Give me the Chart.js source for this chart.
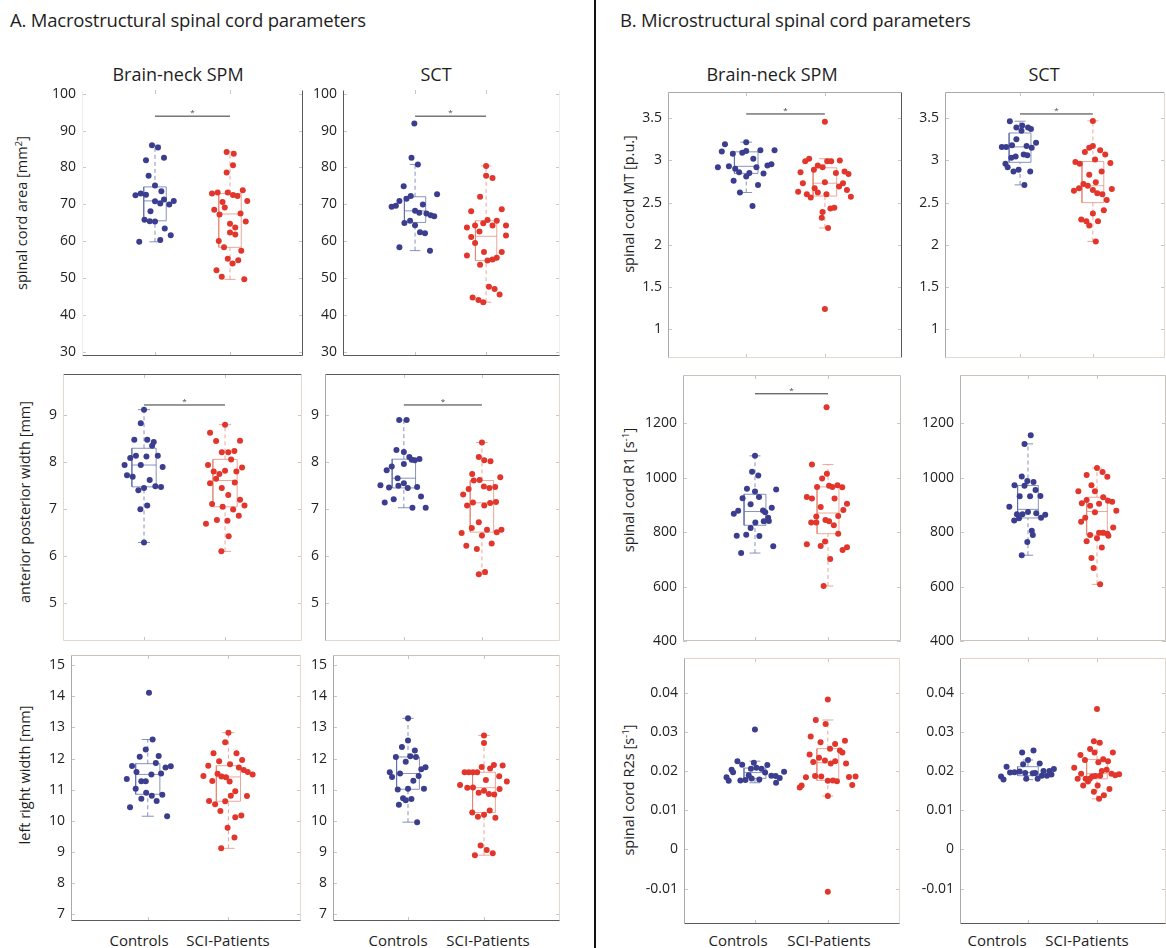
<!DOCTYPE html>
<html>
<head>
<meta charset="utf-8">
<script src="https://cdn.jsdelivr.net/npm/chart.js@4.4.1/dist/chart.umd.min.js"></script>
<style>
  body { margin: 0; background: #fff; font-family: "Open Sans", sans-serif; color: #1e1e1e; }
  #fig { position: relative; width: 1166px; height: 948px; overflow: hidden; }
  #fig canvas { position: absolute; }
  .t { position: absolute; white-space: nowrap; color: #1e1e1e; line-height: 1; }
  .sec { font-size: 18.5px; letter-spacing: -0.2px; }
  .sub { font-size: 18px; transform: translate(-50%, -50%); }
  .yl { font-size: 14.5px; transform: translate(-50%, -50%) rotate(-90deg); }
  .xl { font-size: 15px; transform: translate(-50%, -50%); }
  sup { font-size: 0.68em; vertical-align: 0.5em; line-height: 0; }
  #sep { position: absolute; left: 594px; top: 0; width: 2px; height: 948px; background: #111; }
</style>
</head>
<body>
<div id="fig">
  <div class="t sec" style="left:10px;top:11px">A. Macrostructural spinal cord parameters</div>
  <div class="t sec" style="left:620px;top:11px">B. Microstructural spinal cord parameters</div>
  <div id="sep"></div>

  <div class="t sub" style="left:178px;top:74px">Brain-neck SPM</div>
  <div class="t sub" style="left:436px;top:74px">SCT</div>
  <div class="t sub" style="left:772px;top:74px">Brain-neck SPM</div>
  <div class="t sub" style="left:1044px;top:74px">SCT</div>

  <div class="t yl" style="left:22px;top:213px">spinal cord area [mm<sup>2</sup>]</div>
  <div class="t yl" style="left:25px;top:502px">anterior posterior width [mm]</div>
  <div class="t yl" style="left:25px;top:775px">left right width [mm]</div>
  <div class="t yl" style="left:629px;top:204px">spinal cord MT [p.u.]</div>
  <div class="t yl" style="left:629px;top:490px">spinal cord R1 [s<sup>-1</sup>]</div>
  <div class="t yl" style="left:629px;top:790px">spinal cord R2s [s<sup>-1</sup>]</div>

  <div class="t xl" style="left:139px;top:940px">Controls</div>
  <div class="t xl" style="left:228px;top:940px">SCI-Patients</div>
  <div class="t xl" style="left:398px;top:940px">Controls</div>
  <div class="t xl" style="left:488px;top:940px">SCI-Patients</div>
  <div class="t xl" style="left:738px;top:940px">Controls</div>
  <div class="t xl" style="left:829px;top:940px">SCI-Patients</div>
  <div class="t xl" style="left:997px;top:940px">Controls</div>
  <div class="t xl" style="left:1087px;top:940px">SCI-Patients</div>
</div>

<script>
// ---------- data ----------
const groups = ['Controls', 'SCI-Patients'];

// tick labels per measure
const areaTicks = [30, 40, 50, 60, 70, 80, 90, 100];
const apTicks = [5, 6, 7, 8, 9];
const lrTicks = [7, 8, 9, 10, 11, 12, 13, 14, 15];
const mtTicks = [1, 1.5, 2, 2.5, 3, 3.5];
const r1Ticks = [400, 600, 800, 1000, 1200];
const r2sTicks = [-0.01, 0, 0.01, 0.02, 0.03, 0.04];

// spinal cord area, Brain-neck SPM
const areaSpmCtrl = [86.0, 85.4, 81.9, 82.6, 77.7, 75.1, 73.5, 72.4, 72.9, 72.6, 71.3, 70.8, 70.2, 69.9, 70.9, 68.1, 65.8, 65.4, 65.3, 63.4, 61.6, 59.8, 60.3];
const areaSpmCtrlJit = [-0.04, 0.04, -0.12, 0.12, -0.085, 0, 0.085, -0.26, -0.19, -0.12, 0.12, 0, 0.07, 0.19, 0.25, -0.06, -0.14, -0.07, 0, 0.13, 0.21, -0.21, 0.07];
const areaSpmSci = [84.2, 83.7, 80.6, 78.6, 72.9, 73.2, 73.2, 72.5, 72.2, 73.8, 70.9, 70.6, 68.5, 69.1, 67.2, 67.5, 65.3, 64.7, 63.7, 62.3, 61.8, 60.0, 58.3, 57.4, 55.2, 54.8, 53.9, 52.1, 50.3, 49.6];
const areaSpmSciJit = [-0.045, 0.05, 0.04, -0.045, -0.24, -0.165, -0.03, 0.04, 0.1, 0.17, 0.23, -0.1, -0.21, -0.07, -0.14, 0.14, 0.21, 0, 0.07, 0, 0.07, -0.15, -0.08, 0.15, -0.03, 0.11, 0.035, -0.18, -0.11, 0.19];

// spinal cord area, SCT
const areaSctCtrl = [91.9, 82.6, 80.8, 74.9, 72.7, 72.2, 71.5, 70.9, 69.9, 69.3, 69.6, 68.2, 67.7, 67.5, 67.0, 66.7, 65.5, 64.9, 64.3, 62.4, 62.1, 58.3, 57.4];
const areaSctCtrlJit = [-0.01, -0.05, 0.04, -0.16, 0.31, -0.06, -0.12, -0.22, 0.11, -0.33, -0.27, 0, 0.06, 0.16, 0.22, 0.27, -0.07, -0.15, 0, 0.07, 0.14, -0.22, 0.21];
const areaSctSci = [80.4, 77.7, 77.1, 72.0, 68.1, 68.6, 65.7, 65.5, 64.8, 64.2, 64.2, 64.2, 63.7, 62.6, 61.1, 61.5, 59.5, 57.0, 57.0, 56.1, 55.5, 55.0, 54.7, 53.6, 47.6, 47.0, 45.5, 44.7, 44.0, 43.4];
const areaSctSciJit = [0, 0, 0.09, -0.085, -0.21, 0.22, 0.02, 0.15, -0.04, -0.155, 0.09, 0.28, -0.27, -0.094, -0.21, 0.28, -0.155, -0.03, 0.22, -0.27, 0.15, 0.09, 0.02, -0.085, 0.04, 0.12, 0.19, -0.19, -0.108, -0.04];

// anterior posterior width
const apSpmCtrl = [9.11, 8.82, 8.47, 8.47, 8.42, 8.34, 8.08, 8.13, 8.11, 8.13, 7.93, 7.93, 7.89, 7.71, 7.68, 7.61, 7.44, 7.39, 7.48, 7.46, 7.07, 6.99, 6.28];
const apSpmCtrlJit = [0, -0.04, -0.12, 0.04, 0.12, 0.10, -0.17, -0.10, 0.03, 0.17, -0.24, -0.04, 0.23, -0.21, -0.14, 0.07, 0, -0.07, 0.14, 0.21, 0.04, -0.045, 0];
const apSpmSci = [8.79, 8.62, 8.44, 8.45, 8.20, 8.20, 8.23, 8.05, 7.93, 7.88, 7.79, 7.74, 7.81, 7.79, 7.64, 7.54, 7.56, 7.44, 7.29, 7.10, 7.19, 7.07, 7.04, 6.98, 6.85, 6.76, 6.74, 6.68, 6.41, 6.09];
const apSpmSciJit = [0, -0.185, -0.11, 0.185, -0.04, 0.04, 0.115, 0.075, -0.21, 0.21, -0.14, -0.07, 0, 0.14, -0.11, -0.185, 0.12, -0.04, 0.04, -0.16, 0.185, 0.24, -0.03, 0.10, 0.17, -0.1, 0.03, -0.235, 0.045, -0.045];
const apSctCtrl = [8.89, 8.89, 8.25, 8.21, 8.10, 8.04, 8.06, 8.03, 7.90, 7.95, 7.82, 7.65, 7.50, 7.45, 7.49, 7.54, 7.44, 7.46, 7.26, 7.20, 7.13, 7.02, 7.02];
const apSctCtrlJit = [-0.06, 0.035, -0.095, 0, 0.07, 0.1, 0.2, 0.14, -0.155, 0, -0.22, -0.08, -0.3, -0.19, -0.07, 0, 0.05, 0.17, 0.22, -0.13, -0.245, 0.11, 0.28];
const apSctSci = [8.41, 8.10, 8.03, 8.01, 7.74, 7.60, 7.61, 7.67, 7.47, 7.44, 7.46, 7.42, 7.30, 7.13, 7.12, 7.14, 7.07, 7.07, 6.71, 6.59, 6.55, 6.50, 6.55, 6.48, 6.43, 6.26, 6.21, 6.14, 5.60, 5.65];
const apSctSciJit = [0, -0.04, 0.03, 0.11, -0.125, -0.105, -0.03, 0.235, 0.025, 0.095, 0.17, -0.17, -0.24, -0.115, 0.105, 0.18, -0.19, 0.03, -0.04, -0.13, 0.065, 0.19, 0.25, -0.26, 0, 0.125, -0.2, -0.065, -0.04, 0.04];

// left right width
const lrSpmCtrl = [14.11, 12.61, 12.29, 12.06, 12.08, 11.86, 11.76, 11.71, 11.75, 11.57, 11.49, 11.52, 11.34, 11.27, 11.27, 11.03, 10.90, 10.84, 10.81, 10.71, 10.64, 10.44, 10.15];
const lrSpmCtrlJit = [0.015, 0.06, -0.025, -0.1, 0.135, 0.1, -0.195, 0.22, 0.285, -0.14, 0.045, 0.165, -0.26, -0.08, -0.025, -0.15, -0.02, 0.18, 0.05, -0.08, 0.11, -0.22, 0.24];
const lrSpmSci = [12.83, 12.52, 12.17, 12.17, 11.95, 11.91, 11.82, 11.77, 11.71, 11.63, 11.57, 11.49, 11.51, 11.42, 11.40, 11.44, 11.28, 11.26, 10.95, 10.80, 10.81, 10.64, 10.63, 10.53, 10.32, 10.12, 10.17, 9.78, 9.47, 9.12];
const lrSpmSciJit = [0, -0.04, -0.185, 0.1, 0.17, -0.115, 0.02, -0.25, 0.13, 0.19, 0.24, 0.3, -0.135, -0.085, -0.03, -0.31, -0.2, 0.015, 0.085, 0.23, 0.03, -0.24, -0.04, -0.165, -0.1, 0.085, 0.16, -0.01, 0.075, -0.09];
const lrSctCtrl = [13.29, 12.58, 12.37, 12.26, 12.05, 12.07, 12.05, 11.90, 11.56, 11.52, 11.41, 11.44, 11.66, 11.72, 11.29, 11.01, 11.03, 11.03, 10.73, 10.66, 10.70, 10.52, 9.96];
const lrSctCtrlJit = [0, 0, -0.08, 0.09, -0.16, 0.03, 0.105, -0.03, -0.24, -0.105, -0.21, 0.14, 0.175, 0.23, 0.07, -0.135, 0, 0.21, -0.065, -0.03, 0.045, -0.12, 0.12];
const lrSctSci = [12.74, 12.50, 11.15, 11.56, 11.56, 11.56, 11.56, 11.73, 11.68, 11.79, 11.78, 11.43, 11.31, 11.26, 11.06, 11.07, 10.90, 10.97, 10.86, 10.85, 11.02, 10.27, 10.33, 10.13, 10.20, 10.10, 9.21, 9.07, 8.90, 8.96];
const lrSctSciJit = [0, 0, -0.315, -0.255, -0.2, -0.145, -0.09, -0.03, 0.08, 0.13, 0.245, 0.2, 0.025, 0.3, -0.22, -0.145, -0.07, 0, 0.065, 0.135, 0.205, -0.155, 0.075, -0.08, 0, 0.15, -0.045, 0.035, -0.12, 0.115];

// MT
const mtSpmCtrl = [3.216, 3.19, 3.12, 3.12, 3.105, 3.09, 3.11, 3.08, 3.02, 2.92, 2.93, 2.92, 2.94, 2.955, 2.90, 2.86, 2.85, 2.845, 2.81, 2.76, 2.71, 2.62, 2.46];
const mtSpmCtrlJit = [0, -0.27, 0.18, 0.36, -0.31, -0.05, 0, -0.17, 0.09, -0.36, -0.22, 0.13, 0.27, 0.32, -0.14, -0.09, 0.04, 0.22, 0, -0.16, 0.15, -0.08, 0.08];
const mtSpmSci = [3.457, 3.02, 2.99, 2.99, 2.99, 3.00, 2.94, 2.92, 2.89, 2.86, 2.87, 2.84, 2.85, 2.73, 2.73, 2.74, 2.67, 2.69, 2.63, 2.60, 2.62, 2.60, 2.65, 2.56, 2.57, 2.43, 2.44, 2.39, 2.32, 2.20, 1.24];
const mtSpmSciJit = [0, -0.2, -0.25, 0.03, 0.08, 0.19, -0.09, -0.03, -0.14, -0.31, 0.25, 0.3, 0.14, -0.28, 0.23, 0, -0.13, 0.18, -0.34, -0.23, -0.09, 0.02, 0.28, -0.18, 0.33, 0.07, 0.12, -0.03, -0.04, 0.04, 0];
const mtSctCtrl = [3.464, 3.413, 3.389, 3.389, 3.373, 3.35, 3.25, 3.21, 3.18, 3.16, 3.16, 3.17, 3.15, 3.07, 3.045, 3.03, 3.06, 2.96, 2.92, 2.89, 2.87, 2.87, 2.71];
const mtSctCtrlJit = [-0.14, 0.03, -0.05, 0.11, 0.15, 0.02, -0.05, 0.22, -0.11, -0.25, -0.19, 0.09, 0.16, 0.05, -0.06, -0.12, 0.10, -0.2, -0.17, -0.02, -0.09, 0.14, 0.06];
const mtSctSci = [3.468, 3.17, 3.15, 3.10, 3.12, 3.07, 2.98, 2.96, 3.01, 2.97, 2.87, 2.83, 2.74, 2.72, 2.70, 2.67, 2.64, 2.65, 2.66, 2.61, 2.60, 2.53, 2.41, 2.37, 2.30, 2.28, 2.28, 2.23, 2.04];
const mtSctSciJit = [0, 0, -0.05, -0.11, 0.10, 0.17, -0.24, -0.18, 0.03, 0.24, 0.12, -0.05, 0.04, -0.13, -0.07, -0.19, -0.26, 0, 0.26, 0.06, 0.13, 0.19, 0.15, 0, -0.16, -0.09, 0.07, -0.05, 0.04];

// R1
const r1SpmCtrl = [1080, 1022, 1008, 959, 949, 956, 924, 929, 902, 889, 878, 867, 879, 873, 853, 840, 841, 835, 815, 787, 790, 786, 748, 723];
const r1SpmCtrlJit = [0, -0.04, 0.045, -0.11, 0, 0.29, -0.17, 0.055, -0.06, 0.23, -0.23, -0.29, 0.11, 0.14, 0.18, 0.12, 0.19, 0.005, -0.06, -0.25, -0.12, 0.06, 0.25, -0.19];
const r1SpmSci = [1259, 1048, 1014, 997, 966, 970, 966, 972, 965, 929, 923, 923, 904, 892, 881, 857, 859, 835, 835, 844, 840, 825, 794, 755, 749, 765, 734, 744, 701, 602];
const r1SpmSciJit = [-0.02, -0.22, -0.015, -0.08, -0.15, 0.015, 0.06, 0.13, 0.195, -0.29, -0.22, 0.09, 0.26, -0.1, 0.21, -0.16, 0.14, -0.23, -0.16, -0.035, 0.015, 0.08, 0.14, -0.29, -0.1, -0.04, 0.2, 0.26, 0.03, -0.06];
const r1SctCtrl = [1156, 1124, 1004, 988, 984, 972, 970, 955, 932, 932, 933, 893, 866, 874, 866, 869, 864, 853, 851, 843, 805, 789, 764, 715];
const r1SctCtrlJit = [0.04, -0.05, -0.09, -0.01, 0.08, -0.195, -0.05, 0.11, -0.12, 0.03, 0.18, -0.27, -0.08, 0, -0.16, 0.12, 0.25, 0.19, -0.13, -0.2, 0.055, 0.07, -0.01, -0.09];
const r1SctSci = [1035, 1021, 1010, 1003, 972, 950, 950, 918, 906, 928, 915, 911, 897, 904, 878, 873, 853, 838, 817, 789, 798, 798, 794, 787, 777, 766, 743, 705, 668, 608];
const r1SctSciJit = [0, 0.08, -0.15, 0.15, -0.08, -0.27, -0.03, -0.15, -0.22, 0.09, 0.16, 0.22, -0.1, 0.03, 0.28, -0.03, -0.17, -0.23, 0.235, -0.1, 0.03, 0.09, 0.15, 0.165, 0, -0.15, 0.07, -0.08, -0.05, 0.045];

// R2s
const r2sSpmCtrl = [0.0306, 0.0225, 0.0216, 0.0221, 0.0215, 0.0203, 0.0197, 0.0206, 0.0208, 0.0206, 0.0196, 0.0198, 0.0188, 0.0187, 0.0182, 0.0184, 0.0189, 0.0175, 0.0176, 0.0177, 0.0181, 0.0178, 0.0170];
const r2sSpmCtrlJit = [0, -0.24, -0.175, -0.015, 0.17, -0.32, -0.3, -0.055, 0.02, 0.09, 0.14, 0.4, 0.225, 0.285, 0.34, -0.39, -0.085, -0.36, -0.2, -0.13, -0.045, 0.06, 0.29];
const r2sSpmSci = [0.0382, 0.0330, 0.0320, 0.0288, 0.0273, 0.0277, 0.0269, 0.0257, 0.0252, 0.0247, 0.0242, 0.0234, 0.0227, 0.0223, 0.0225, 0.0219, 0.0219, 0.0184, 0.0187, 0.0186, 0.0185, 0.0186, 0.0175, 0.0176, 0.0174, 0.0163, 0.0158, 0.0164, 0.0136, -0.0108];
const r2sSpmSciJit = [0, -0.165, -0.03, -0.235, -0.1, 0.235, 0.1, 0.03, 0.165, 0.2, -0.25, -0.12, -0.04, -0.2, 0.1, 0.04, 0.25, -0.3, -0.175, -0.09, 0.29, 0.38, 0, 0.07, 0.125, -0.36, -0.385, 0.335, 0, 0];
const r2sSctCtrl = [0.0247, 0.0252, 0.0228, 0.0211, 0.0217, 0.0219, 0.0196, 0.0197, 0.0199, 0.0195, 0.0194, 0.0195, 0.0200, 0.0205, 0.0200, 0.0186, 0.0188, 0.0188, 0.0191, 0.0178, 0.0180, 0.0180];
const r2sSctCtrlJit = [-0.085, 0.08, 0, -0.31, -0.07, 0.17, -0.26, -0.195, -0.12, -0.04, 0.07, 0.105, 0.225, 0.375, 0.31, -0.39, 0.2, 0.275, 0.34, -0.355, -0.025, 0.14];
const r2sSctSci = [0.0358, 0.0276, 0.0272, 0.0256, 0.0247, 0.0241, 0.0247, 0.0228, 0.0230, 0.0225, 0.0222, 0.0208, 0.0203, 0.0200, 0.0193, 0.0186, 0.0187, 0.0188, 0.0193, 0.0189, 0.0192, 0.0180, 0.0180, 0.0173, 0.0180, 0.0163, 0.0163, 0.0154, 0.0147, 0.0138, 0.0129];
const r2sSctSciJit = [0, -0.045, 0.04, -0.1, 0.23, -0.24, -0.035, -0.175, 0.09, 0.16, 0.02, -0.33, 0.14, 0.07, -0.23, -0.07, -0.025, 0.045, 0.21, 0.265, 0.32, -0.28, -0.165, -0.13, -0.105, -0.2, 0.01, 0.18, -0.045, 0.1, 0.03];

// height of the significance bar ("*"), null where none
const sigLevels = [93.9, 93.9, 3.55, 3.55, 9.21, 9.21, 1308, null, null, null, null, null];

// ---------- panels: data + placement ----------
const LIGHT = '#e3d8cf', MID = '#a9a9a9', DARK = '#5a5a5a';
const panels = [
  { ctrl: areaSpmCtrl, cj: areaSpmCtrlJit, sci: areaSpmSci, sj: areaSpmSciJit, ticks: areaTicks,
    l: 82, r: 303, t: 90, b: 356, xmin: 0.027, xmax: 2.973, ymin: 28.8, ymax: 101, sides: [null, DARK, DARK, '#eeeeee'] },
  { ctrl: areaSctCtrl, cj: areaSctCtrlJit, sci: areaSctSci, sj: areaSctSciJit, ticks: areaTicks,
    l: 343, r: 560, t: 90, b: 356, xmin: -0.014, xmax: 3.04, ymin: 28.8, ymax: 101, sides: [null, '#eeeeee', DARK, DARK] },
  { ctrl: mtSpmCtrl, cj: mtSpmCtrlJit, sci: mtSpmSci, sj: mtSpmSciJit, ticks: mtTicks,
    l: 668, r: 902, t: 92, b: 358, xmin: 0.006, xmax: 2.98, ymin: 0.66, ymax: 3.81, sides: [MID, DARK, LIGHT, MID] },
  { ctrl: mtSctCtrl, cj: mtSctCtrlJit, sci: mtSctSci, sj: mtSctSciJit, ticks: mtTicks,
    l: 945, r: 1165, t: 92, b: 358, xmin: -0.03, xmax: 2.99, ymin: 0.66, ymax: 3.81, sides: [MID, LIGHT, LIGHT, MID] },
  { ctrl: apSpmCtrl, cj: apSpmCtrlJit, sci: apSpmSci, sj: apSpmSciJit, ticks: apTicks,
    l: 63, r: 302, t: 374, b: 641, xmin: 0, xmax: 2.95, ymin: 4.18, ymax: 9.87, sides: [DARK, LIGHT, LIGHT, LIGHT] },
  { ctrl: apSctCtrl, cj: apSctCtrlJit, sci: apSctSci, sj: apSctSciJit, ticks: apTicks,
    l: 325, r: 560, t: 374, b: 641, xmin: -0.01, xmax: 3.0, ymin: 4.18, ymax: 9.87, sides: [DARK, LIGHT, LIGHT, MID] },
  { ctrl: r1SpmCtrl, cj: r1SpmCtrlJit, sci: r1SpmSci, sj: r1SpmSciJit, ticks: r1Ticks,
    l: 683, r: 901, t: 375, b: 641, xmin: 0.014, xmax: 3.0, ymin: 400, ymax: 1377, sides: ['#cbc2ba', '#cbc2ba', '#cbc2ba', '#b9b2ac'] },
  { ctrl: r1SctCtrl, cj: r1SctCtrlJit, sci: r1SctSci, sj: r1SctSciJit, ticks: r1Ticks,
    l: 960, r: 1166, t: 375, b: 641, xmin: 0.015, xmax: 3.0, ymin: 400, ymax: 1377, sides: ['#cbc2ba', '#cbc2ba', '#cbc2ba', '#b9b2ac'] },
  { ctrl: lrSpmCtrl, cj: lrSpmCtrlJit, sci: lrSpmSci, sj: lrSpmSciJit, ticks: lrTicks,
    l: 71, r: 301, t: 655, b: 921, xmin: 0.048, xmax: 2.9, ymin: 6.79, ymax: 15.32, sides: ['#cbc2ba', LIGHT, DARK, MID] },
  { ctrl: lrSctCtrl, cj: lrSctCtrlJit, sci: lrSctSci, sj: lrSctSciJit, ticks: lrTicks,
    l: 333, r: 560, t: 655, b: 921, xmin: 0.013, xmax: 3.0, ymin: 6.79, ymax: 15.32, sides: ['#cbc2ba', LIGHT, DARK, MID] },
  { ctrl: r2sSpmCtrl, cj: r2sSpmCtrlJit, sci: r2sSpmSci, sj: r2sSpmSciJit, ticks: r2sTicks,
    l: 684, r: 900, t: 658, b: 924, xmin: 0.027, xmax: 2.99, ymin: -0.019, ymax: 0.0488, sides: ['#efcfc0', LIGHT, DARK, MID] },
  { ctrl: r2sSctCtrl, cj: r2sSctCtrlJit, sci: r2sSctSci, sj: r2sSctSciJit, ticks: r2sTicks,
    l: 960, r: 1166, t: 658, b: 924, xmin: 0.015, xmax: 3.0, ymin: -0.019, ymax: 0.0488, sides: ['#efcfc0', LIGHT, DARK, MID] }
];

const BLUE = '#3b3d8e', RED = '#e2352b';
const BLUE_BOX = 'rgba(95,110,170,0.75)', RED_BOX = 'rgba(226,130,110,0.7)';
const Y_AXIS_W = 58, PAD = 10;

// MATLAB-style percentile
function pct(sorted, p) {
  const n = sorted.length, pos = n * p - 0.5;
  if (pos <= 0) return sorted[0];
  if (pos >= n - 1) return sorted[n - 1];
  const i = Math.floor(pos);
  return sorted[i] + (pos - i) * (sorted[i + 1] - sorted[i]);
}

function boxStats(vals) {
  const s = [...vals].sort((a, b) => a - b);
  const q1 = pct(s, 0.25), med = pct(s, 0.5), q3 = pct(s, 0.75), iqr = q3 - q1;
  const lo = s.find(v => v >= q1 - 1.5 * iqr);
  const hi = [...s].reverse().find(v => v <= q3 + 1.5 * iqr);
  return { q1, med, q3, lo, hi };
}

function boxOutline(cx, st) {
  const hw = 0.15, cw = 0.075;
  return [
    { x: cx - hw, y: st.q1 }, { x: cx + hw, y: st.q1 }, { x: cx + hw, y: st.q3 }, { x: cx - hw, y: st.q3 }, { x: cx - hw, y: st.q1 },
    { x: cx, y: null },
    { x: cx - hw, y: st.med }, { x: cx + hw, y: st.med },
    { x: cx, y: null },
    { x: cx - cw, y: st.lo }, { x: cx + cw, y: st.lo },
    { x: cx, y: null },
    { x: cx - cw, y: st.hi }, { x: cx + cw, y: st.hi }
  ];
}

function whiskers(cx, st) {
  return [{ x: cx, y: st.lo }, { x: cx, y: st.q1 }, { x: cx, y: null }, { x: cx, y: st.q3 }, { x: cx, y: st.hi }];
}

// frame, inward ticks and significance star
const framePlugin = {
  id: 'frame',
  afterDraw(chart, args, opts) {
    const { ctx, chartArea: a, scales: { x, y } } = chart;
    ctx.save();
    ctx.lineWidth = 1;
    ctx.strokeStyle = '#c8c8c8';
    const seg = (x1, y1, x2, y2) => { ctx.beginPath(); ctx.moveTo(x1, y1); ctx.lineTo(x2, y2); ctx.stroke(); };
    y.ticks.forEach(t => {
      const py = Math.round(y.getPixelForValue(t.value)) + 0.5;
      seg(a.left, py, a.left + 4, py);
      seg(a.right - 4, py, a.right, py);
    });
    [1, 2].forEach(v => {
      const px = Math.round(x.getPixelForValue(v)) + 0.5;
      seg(px, a.bottom, px, a.bottom - 4);
      seg(px, a.top, px, a.top + 4);
    });
    const [top, right, bottom, left] = opts.sides;
    const L = Math.round(a.left) + 0.5, R = Math.round(a.right) - 0.5;
    const T = Math.round(a.top) + 0.5, B = Math.round(a.bottom) - 0.5;
    if (top) { ctx.strokeStyle = top; seg(L, T, R, T); }
    if (right) { ctx.strokeStyle = right; seg(R, T, R, B); }
    if (bottom) { ctx.strokeStyle = bottom; seg(L, B, R, B); }
    if (left) { ctx.strokeStyle = left; seg(L, T, L, B); }
    if (opts.sig != null) {
      ctx.fillStyle = '#444';
      ctx.font = '8px "Open Sans"';
      ctx.textAlign = 'center';
      ctx.fillText('*', x.getPixelForValue(1.5), y.getPixelForValue(opts.sig) - 1);
    }
    ctx.restore();
  }
};

Chart.defaults.font.family = '"Open Sans", sans-serif';

const fig = document.getElementById('fig');
panels.forEach((p, i) => {
  const canvas = document.createElement('canvas');
  const w = p.r - p.l + Y_AXIS_W + 6;
  const h = p.b - p.t + 2 * PAD;
  canvas.width = w; canvas.height = h;
  canvas.style.left = (p.l - Y_AXIS_W) + 'px';
  canvas.style.top = (p.t - PAD) + 'px';
  canvas.style.width = w + 'px'; canvas.style.height = h + 'px';
  fig.appendChild(canvas);

  const cs = boxStats(p.ctrl), ss = boxStats(p.sci);
  const sig = sigLevels[i];
  const datasets = [
    { type: 'scatter', label: groups[0], data: p.ctrl.map((v, k) => ({ x: 1 + p.cj[k], y: v })),
      pointRadius: 3, pointBackgroundColor: BLUE, pointBorderWidth: 0 },
    { type: 'scatter', label: groups[1], data: p.sci.map((v, k) => ({ x: 2 + p.sj[k], y: v })),
      pointRadius: 3, pointBackgroundColor: RED, pointBorderWidth: 0 },
    { type: 'line', data: boxOutline(1, cs), borderColor: BLUE_BOX, borderWidth: 1, pointRadius: 0, fill: false },
    { type: 'line', data: whiskers(1, cs), borderColor: BLUE_BOX, borderWidth: 1, borderDash: [4, 3], pointRadius: 0, fill: false },
    { type: 'line', data: boxOutline(2, ss), borderColor: RED_BOX, borderWidth: 1, pointRadius: 0, fill: false },
    { type: 'line', data: whiskers(2, ss), borderColor: RED_BOX, borderWidth: 1, borderDash: [4, 3], pointRadius: 0, fill: false }
  ];
  if (sig != null) {
    datasets.push({ type: 'line', data: [{ x: 1, y: sig }, { x: 2, y: sig }], borderColor: '#333', borderWidth: 1, pointRadius: 0, fill: false });
  }

  new Chart(canvas.getContext('2d'), {
    type: 'scatter',
    data: { datasets },
    plugins: [framePlugin],
    options: {
      responsive: false,
      animation: false,
      devicePixelRatio: 1,
      layout: { padding: { top: PAD, bottom: PAD, left: 0, right: 6 } },
      plugins: {
        legend: { display: false },
        tooltip: { enabled: false },
        frame: { sides: p.sides, sig }
      },
      scales: {
        x: { type: 'linear', display: false, min: p.xmin, max: p.xmax },
        y: {
          type: 'linear', min: p.ymin, max: p.ymax,
          afterBuildTicks: s => { s.ticks = p.ticks.map(v => ({ value: v })); },
          afterFit: s => { s.width = Y_AXIS_W; s.paddingTop = 0; s.paddingBottom = 0; },
          grid: { display: false, drawTicks: false },
          border: { display: false },
          ticks: { color: '#222', font: { size: 14 }, padding: 6, callback: v => String(v) }
        }
      }
    }
  });
});
</script>
</body>
</html>
